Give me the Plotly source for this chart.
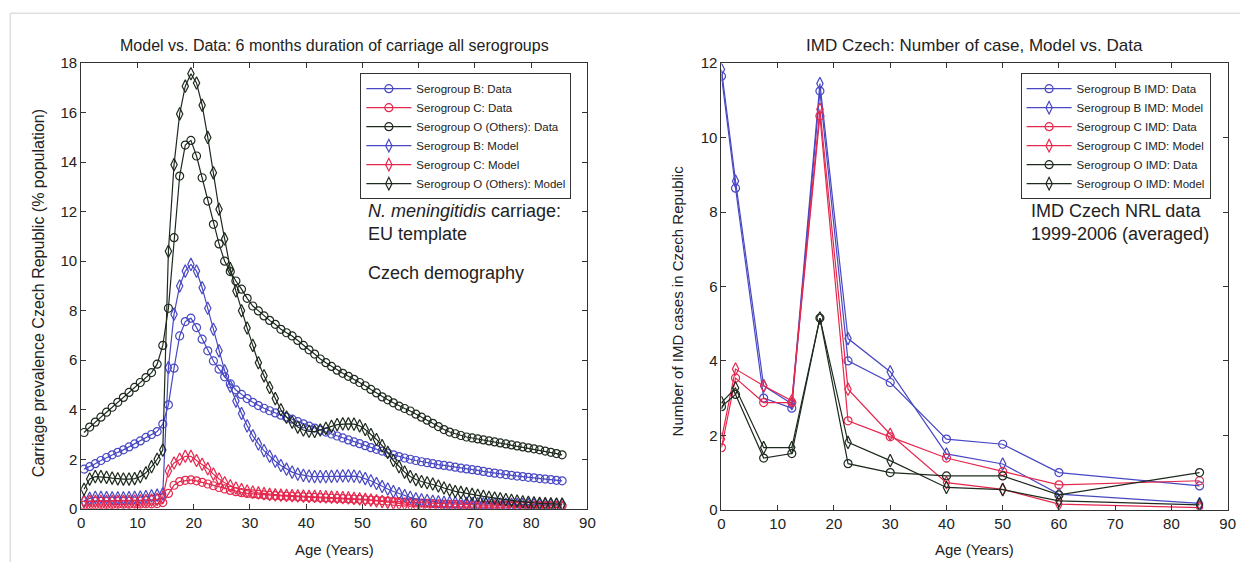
import plotly.graph_objects as go

# ---------------- Left panel data (age in years, % population) ----------------
ages_left = [a + 0.5 for a in range(86)]

b_data = [1.6, 1.7, 1.82, 1.95, 2.07, 2.18, 2.28, 2.38, 2.5, 2.62, 2.74, 2.88, 3.0, 3.12, 3.42,
          4.2, 5.68, 6.98, 7.56, 7.7, 7.32, 6.85, 6.38, 5.97, 5.64, 5.33, 5.05, 4.8, 4.62, 4.45,
          4.3, 4.17, 4.06, 3.96, 3.87, 3.78,
          3.7, 3.62, 3.52, 3.43, 3.34, 3.26, 3.18, 3.1, 3.02, 2.94,
          2.86, 2.78, 2.7, 2.63, 2.55, 2.47, 2.4, 2.33, 2.25, 2.18,
          2.11, 2.05, 2.0, 1.95, 1.9, 1.86, 1.82, 1.78, 1.75, 1.72,
          1.68, 1.64, 1.61, 1.58, 1.55, 1.51, 1.47, 1.44, 1.41, 1.38,
          1.35, 1.32, 1.3, 1.27, 1.25, 1.22, 1.2, 1.18, 1.15, 1.13]

c_data = [0.15, 0.16, 0.16, 0.17, 0.17, 0.17, 0.18, 0.18, 0.18, 0.19, 0.19, 0.2, 0.2, 0.21, 0.25,
          0.62, 0.95, 1.1, 1.15, 1.17, 1.13, 1.07, 1.0, 0.93, 0.86, 0.8, 0.74, 0.69, 0.65, 0.62,
          0.6, 0.58, 0.56, 0.54, 0.53, 0.52,
          0.51, 0.5, 0.49, 0.48, 0.47, 0.46, 0.45, 0.44, 0.43, 0.42,
          0.41, 0.4, 0.39, 0.38, 0.36, 0.35, 0.34, 0.33, 0.31, 0.3,
          0.29, 0.27, 0.26, 0.24, 0.23, 0.22, 0.21, 0.2, 0.19, 0.18,
          0.18, 0.17, 0.17, 0.16, 0.16, 0.15, 0.15, 0.14, 0.14, 0.14,
          0.13, 0.13, 0.13, 0.13, 0.12, 0.12, 0.12, 0.12, 0.12, 0.12]

o_data = [3.08, 3.3, 3.5, 3.7, 3.9, 4.1, 4.3, 4.5, 4.7, 4.9, 5.1, 5.3, 5.5, 5.84, 6.6,
          8.1, 10.95, 13.44, 14.69, 14.88, 14.25, 13.37, 12.43, 11.49, 10.7, 10.0, 9.58, 9.2, 8.87, 8.5,
          8.19, 7.99, 7.79, 7.61, 7.45, 7.25,
          7.11, 6.98, 6.8, 6.6, 6.42, 6.25, 6.05, 5.9, 5.75, 5.6,
          5.47, 5.35, 5.23, 5.1, 4.97, 4.82, 4.68, 4.52, 4.4, 4.28,
          4.15, 4.05, 3.95, 3.82, 3.7, 3.58, 3.45, 3.32, 3.2, 3.1,
          3.03, 2.96, 2.9, 2.86, 2.82, 2.78, 2.74, 2.7, 2.66, 2.62,
          2.58, 2.54, 2.5, 2.46, 2.42, 2.38, 2.33, 2.28, 2.23, 2.18]

b_model = [0.32, 0.42, 0.46, 0.46, 0.45, 0.44, 0.44, 0.44, 0.45, 0.46, 0.47, 0.49, 0.52, 0.55, 0.6,
           5.7, 7.86, 9.0, 9.6, 9.87, 9.6, 8.93, 8.1, 7.25, 6.38, 5.57, 4.95, 4.35, 3.85, 3.35,
           2.95, 2.62, 2.35, 2.12, 1.92, 1.75,
           1.6, 1.48, 1.4, 1.35, 1.32, 1.3, 1.3, 1.3, 1.31, 1.32,
           1.33, 1.33, 1.32, 1.29, 1.22, 1.13, 1.02, 0.9, 0.8, 0.7,
           0.61, 0.53, 0.46, 0.4, 0.36, 0.33, 0.3, 0.28, 0.26, 0.25,
           0.24, 0.23, 0.22, 0.21, 0.2, 0.2, 0.19, 0.19, 0.19, 0.18,
           0.18, 0.18, 0.17, 0.17, 0.17, 0.17, 0.16, 0.16, 0.16, 0.16]

c_model = [0.28, 0.3, 0.3, 0.3, 0.3, 0.3, 0.3, 0.3, 0.3, 0.31, 0.32, 0.33, 0.35, 0.38, 0.45,
           1.53, 1.85, 2.0, 2.12, 2.12, 1.95, 1.8, 1.62, 1.4, 1.2, 1.05, 0.93, 0.84, 0.78, 0.72,
           0.68, 0.64, 0.61, 0.58, 0.56, 0.55,
           0.54, 0.53, 0.52, 0.51, 0.5, 0.5, 0.49, 0.48, 0.47, 0.46,
           0.45, 0.44, 0.42, 0.4, 0.38, 0.35, 0.32, 0.29, 0.26, 0.23,
           0.2, 0.18, 0.16, 0.14, 0.12, 0.11, 0.1, 0.09, 0.09, 0.08,
           0.08, 0.08, 0.07, 0.07, 0.07, 0.07, 0.07, 0.07, 0.06, 0.06,
           0.06, 0.06, 0.06, 0.06, 0.06, 0.06, 0.06, 0.06, 0.06, 0.06]

o_model = [0.79, 1.2, 1.3, 1.3, 1.27, 1.24, 1.21, 1.2, 1.2, 1.22, 1.3, 1.45, 1.7, 2.0, 2.37,
           10.4, 13.9, 15.95, 17.07, 17.57, 17.2, 16.3, 15.0, 13.57, 12.1, 10.9, 9.7, 8.8, 8.0, 7.3,
           6.6, 5.9, 5.37, 4.9, 4.45, 4.0,
           3.7, 3.5, 3.3, 3.18, 3.13, 3.12, 3.18, 3.25, 3.33, 3.4,
           3.43, 3.43, 3.42, 3.35, 3.2, 3.0, 2.8, 2.55, 2.28, 1.95,
           1.7, 1.48, 1.3, 1.18, 1.1, 1.05, 1.0, 0.92, 0.84, 0.76,
           0.7, 0.66, 0.61, 0.58, 0.54, 0.5, 0.46, 0.43, 0.4, 0.37,
           0.34, 0.31, 0.28, 0.26, 0.24, 0.22, 0.21, 0.2, 0.19, 0.19]

# ---------------- Right panel data (number of IMD cases) ----------------
ages_right = [0, 2.5, 7.5, 12.5, 17.5, 22.5, 30, 40, 50, 60, 85]
b_imd_data = [11.65, 8.64, 3.0, 2.73, 11.25, 4.0, 3.42, 1.9, 1.76, 1.0, 0.64]
b_imd_model = [11.83, 8.83, 3.33, 2.85, 11.45, 4.6, 3.71, 1.5, 1.23, 0.42, 0.17]
c_imd_data = [1.67, 3.54, 2.88, 2.88, 10.58, 2.39, 1.96, 1.39, 1.03, 0.67, 0.78]
c_imd_model = [1.9, 3.78, 3.33, 2.93, 10.76, 3.24, 2.03, 0.73, 0.55, 0.15, 0.06]
o_imd_data = [2.77, 3.1, 1.39, 1.51, 5.15, 1.24, 1.0, 0.91, 0.91, 0.4, 1.0]
o_imd_model = [2.88, 3.27, 1.67, 1.67, 5.15, 1.81, 1.32, 0.6, 0.54, 0.24, 0.13]

BLUE = "#4848c4"
RED = "#e6284e"
BLACK = "#1e2a1e"
FONT = "Liberation Sans, Arial, sans-serif"

fig = go.Figure()

def add(x, y, name, color, symbol, xa, ya, legend):
    fig.add_trace(go.Scatter(
        x=x, y=y, name=name, mode="lines+markers",
        line=dict(color=color, width=1.2),
        marker=dict(symbol=symbol, size=8 if "circle" in symbol else 9,
                    color=color, line=dict(color=color, width=1.2)),
        xaxis=xa, yaxis=ya, legend=legend))

add(ages_left, b_data, "Serogroup B: Data", BLUE, "circle-open", "x", "y", "legend")
add(ages_left, c_data, "Serogroup C: Data", RED, "circle-open", "x", "y", "legend")
add(ages_left, o_data, "Serogroup O (Others): Data", BLACK, "circle-open", "x", "y", "legend")
add(ages_left, b_model, "Serogroup B: Model", BLUE, "diamond-tall-open", "x", "y", "legend")
add(ages_left, c_model, "Serogroup C: Model", RED, "diamond-tall-open", "x", "y", "legend")
add(ages_left, o_model, "Serogroup O (Others): Model", BLACK, "diamond-tall-open", "x", "y", "legend")

add(ages_right, b_imd_data, "Serogroup B IMD: Data", BLUE, "circle-open", "x2", "y2", "legend2")
add(ages_right, b_imd_model, "Serogroup B IMD: Model", BLUE, "diamond-tall-open", "x2", "y2", "legend2")
add(ages_right, c_imd_data, "Serogroup C IMD: Data", RED, "circle-open", "x2", "y2", "legend2")
add(ages_right, c_imd_model, "Serogroup C IMD: Model", RED, "diamond-tall-open", "x2", "y2", "legend2")
add(ages_right, o_imd_data, "Serogroup O IMD: Data", BLACK, "circle-open", "x2", "y2", "legend2")
add(ages_right, o_imd_model, "Serogroup O IMD: Model", BLACK, "diamond-tall-open", "x2", "y2", "legend2")

W, H = 1248, 570
# measured screenshot mapping: shot_x = 0.990*page_x + 3.8 ; shot_y = 0.971*page_y + 7.8
def px(v):
    return ((v - 3.8) / 0.990) / W
def py(v):
    return 1 - ((v - 7.8) / 0.971) / H

axis_common = dict(showline=True, linecolor="#333333", linewidth=1, mirror="ticks",
                   ticks="inside", ticklen=5, tickcolor="#333333", showgrid=False,
                   zeroline=False, tickfont=dict(family=FONT, size=15, color="#222222"))

legend_common = dict(xanchor="left", yanchor="top", bgcolor="white", bordercolor="#333333",
                     borderwidth=1, font=dict(family=FONT, size=11.5, color="#222222"),
                     itemwidth=45, tracegroupgap=0)

fig.update_layout(
    width=W, height=H, margin=dict(l=0, r=0, t=0, b=0),
    paper_bgcolor="white", plot_bgcolor="white",
    font=dict(family=FONT, color="#222222"),
    xaxis=dict(domain=[px(81), px(587)], range=[0, 90], dtick=10, anchor="y", **axis_common),
    yaxis=dict(domain=[py(508), py(62)], range=[0, 18], dtick=2, anchor="x", **axis_common),
    xaxis2=dict(domain=[px(721), px(1227)], range=[0, 90], dtick=10, anchor="y2", **axis_common),
    yaxis2=dict(domain=[py(509), py(62)], range=[0, 12], dtick=2, anchor="x2", **axis_common),
    legend=dict(x=px(360), y=py(72), **legend_common),
    legend2=dict(x=px(1020), y=py(72), **legend_common),
    showlegend=True,
)

ann = []
def text(x, y, s, size=15, angle=0, xanchor="center", yanchor="middle", align="center"):
    ann.append(dict(x=px(x), y=py(y), xref="paper", yref="paper", text=s, showarrow=False,
                    font=dict(family=FONT, size=size, color="#222222"), textangle=angle,
                    xanchor=xanchor, yanchor=yanchor, align=align))

text(334, 44, "Model vs. Data: 6 months duration of carriage all serogroups", size=16)
text(974, 44, "IMD Czech: Number of case, Model vs. Data", size=17)
text(334, 549, "Age (Years)")
text(974, 549, "Age (Years)")
text(39, 292, "Carriage prevalence Czech Republic (% population)", size=16, angle=-90)
text(677, 300, "Number of IMD cases in Czech Republic", size=15, angle=-90)
text(366, 221, "<i>N. meningitidis</i> carriage:<br>EU template", size=18, xanchor="left", align="left")
text(366, 272, "Czech demography", size=18, xanchor="left", align="left")
text(1028, 221, "IMD Czech NRL data<br>1999-2006 (averaged)", size=18, xanchor="left", align="left")

fig.update_layout(annotations=ann)

fig.add_shape(type="line", xref="paper", yref="paper", x0=px(10), x1=1.0, y0=py(12), y1=py(12),
              line=dict(color="#cfcfcf", width=1))
fig.add_shape(type="line", xref="paper", yref="paper", x0=px(10), x1=px(10), y0=py(12), y1=0,
              line=dict(color="#cfcfcf", width=1))

fig.write_html("out.html",
               post_script="document.body.style.margin='0';document.body.style.overflow='hidden';")
